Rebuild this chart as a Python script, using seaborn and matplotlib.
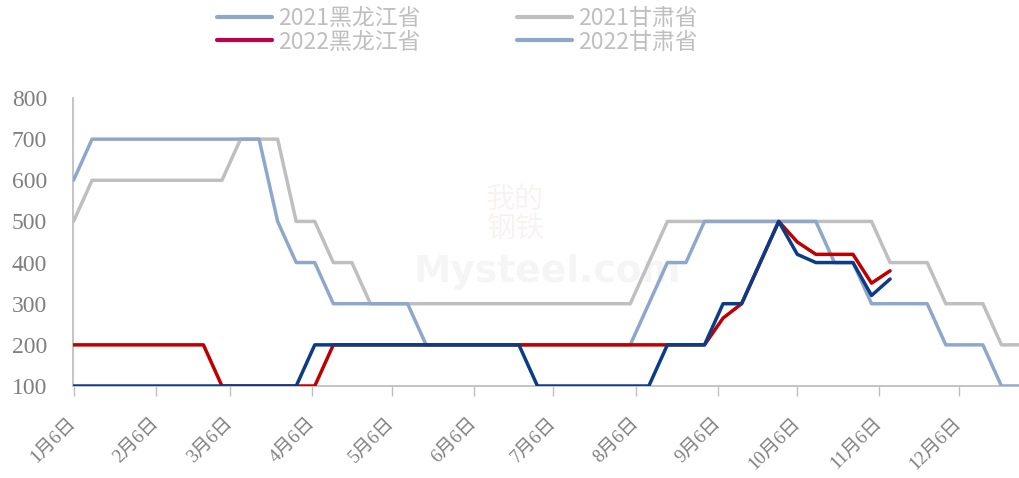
import matplotlib
matplotlib.use("Agg")
import matplotlib.pyplot as plt
import seaborn as sns
import pandas as pd
from matplotlib.lines import Line2D

# ---- data ----
start_date = "2022-01-06"
n_weeks = 52
hlj_2021 = [600, 700, 700, 700, 700, 700, 700, 700, 700, 700, 700, 500, 400, 400,
            300, 300, 300, 300, 300, 200, 200, 200, 200, 200, 200, 200, 200, 200,
            200, 200, 200, 300, 400, 400, 500, 500, 500, 500, 500, 500, 500, 400,
            400, 300, 300, 300, 300, 200, 200, 200, 100, 100]
gs_2021 = [500, 600, 600, 600, 600, 600, 600, 600, 600, 700, 700, 700, 500, 500,
           400, 400, 300, 300, 300, 300, 300, 300, 300, 300, 300, 300, 300, 300,
           300, 300, 300, 400, 500, 500, 500, 500, 500, 500, 500, 500, 500, 500,
           500, 500, 400, 400, 400, 300, 300, 300, 200, 200]
hlj_2022 = [200, 200, 200, 200, 200, 200, 200, 200, 100, 100, 100, 100, 100, 100,
            200, 200, 200, 200, 200, 200, 200, 200, 200, 200, 200, 200, 200, 200,
            200, 200, 200, 200, 200, 200, 200, 265, 300, 400, 500, 450, 420, 420,
            420, 350, 380]
gs_2022 = [100, 100, 100, 100, 100, 100, 100, 100, 100, 100, 100, 100, 100, 200,
           200, 200, 200, 200, 200, 200, 200, 200, 200, 200, 200, 100, 100, 100,
           100, 100, 100, 100, 200, 200, 200, 300, 300, 400, 500, 420, 400, 400,
           400, 320, 360]
series_names = ["2021黑龙江省", "2021甘肃省", "2022黑龙江省", "2022甘肃省"]
tick_labels = ["1月6日", "2月6日", "3月6日", "4月6日", "5月6日", "6月6日",
               "7月6日", "8月6日", "9月6日", "10月6日", "11月6日", "12月6日"]
tick_dates = ["2022-01-06", "2022-02-06", "2022-03-06", "2022-04-06", "2022-05-06",
              "2022-06-06", "2022-07-06", "2022-08-06", "2022-09-06", "2022-10-06",
              "2022-11-06", "2022-12-06"]

dates = pd.date_range(start_date, periods=n_weeks, freq="7D")
frames = []
for name, vals in zip(series_names, [hlj_2021, gs_2021, hlj_2022, gs_2022]):
    frames.append(pd.DataFrame({"date": dates[:len(vals)], "value": vals, "series": name}))
df = pd.concat(frames, ignore_index=True)

line_colors = {"2021黑龙江省": "#8EA8CC", "2021甘肃省": "#BFBFBF",
               "2022黑龙江省": "#C00000", "2022甘肃省": "#0B3C86"}
legend_colors = {"2021黑龙江省": "#8EA8CC", "2021甘肃省": "#BFBFBF",
                 "2022黑龙江省": "#C0004F", "2022甘肃省": "#8EA8CC"}

sns.set_theme(style="white")
plt.rcParams["font.family"] = ["Liberation Serif", "Noto Sans CJK SC"]

fig = plt.figure(figsize=(10.2, 4.78), dpi=100)
ax = fig.add_axes([73.5 / 1020, (478 - 386) / 478, 1 - 73.5 / 1020, (386 - 98) / 478])

# faint watermark behind the lines
ax.text(515 / 1020, 1 - 214 / 478, "我的\n钢铁", fontsize=21, color="#F8F3F3",
        ha="center", va="center", family=["Noto Sans CJK SC"], linespacing=0.95,
        zorder=0, transform=fig.transFigure)
ax.text(547 / 1020, 1 - 272 / 478, "Mysteel.com", fontsize=27, color="#F5F5F5",
        ha="center", va="center", family=["DejaVu Sans"], fontweight="bold",
        zorder=0, transform=fig.transFigure)

draw_order = ["2021甘肃省", "2021黑龙江省", "2022黑龙江省", "2022甘肃省"]
sns.lineplot(data=df, x="date", y="value", hue="series", hue_order=draw_order,
             palette=line_colors, linewidth=2.5, legend=False, ax=ax, zorder=3)

ax.set_xlim(dates[0], dates[-1])
ax.set_ylim(100, 800)
ax.set_yticks([100, 200, 300, 400, 500, 600, 700, 800])
ax.set_xticks(pd.to_datetime(tick_dates))
ax.set_xticklabels(tick_labels, rotation=45, ha="right", va="center",
                   rotation_mode="anchor", color="#7F7F7F", fontsize=13.5)
ax.tick_params(axis="x", length=7, width=1, color="#BFBFBF", pad=18, bottom=True,
               direction="out")
ax.tick_params(axis="y", length=0, pad=19, labelsize=17, labelcolor="#7F7F7F")
ax.set_xlabel("")
ax.set_ylabel("")
for s in ["top", "right"]:
    ax.spines[s].set_visible(False)
for s in ["left", "bottom"]:
    ax.spines[s].set_color("#BFBFBF")
    ax.spines[s].set_linewidth(1.3)

legend_order = ["2021黑龙江省", "2022黑龙江省", "2021甘肃省", "2022甘肃省"]
handles = [Line2D([0], [0], color=legend_colors[n], linewidth=3) for n in legend_order]
leg = fig.legend(handles, legend_order, loc="upper left",
                 bbox_to_anchor=(217 / 1020, 1 - 7 / 478), ncol=2, frameon=False,
                 handlelength=2.4, handletextpad=0.28,
                 columnspacing=4.2, labelspacing=0.02, borderpad=0, borderaxespad=0,
                 prop={"family": ["Noto Sans CJK SC"], "size": 16.5})
for t in leg.get_texts():
    t.set_color("#BFBFBF")

fig.savefig("out.png", dpi=100)
